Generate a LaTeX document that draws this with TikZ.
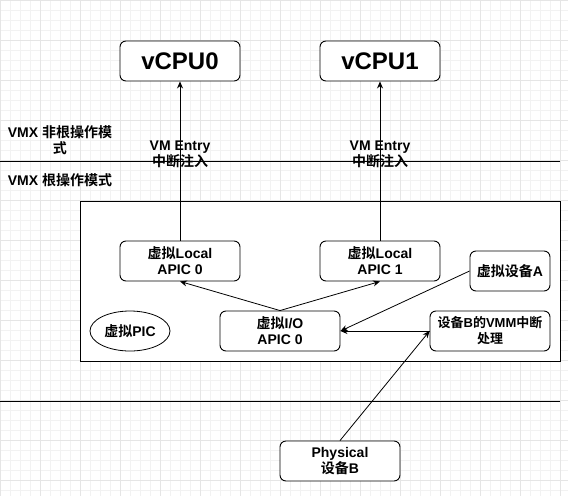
\documentclass[tikz,border=0pt]{standalone}
\usepackage{fontspec}
\setmainfont{Liberation Sans}
\newfontfamily\cjk{Noto Sans CJK SC}[BoldFont={Noto Sans CJK SC Bold}]
\usepackage{tikz}
\usetikzlibrary{arrows.meta,shapes.geometric}

\begin{document}
\begin{tikzpicture}[x=1pt,y=-1pt,>={Stealth[length=7pt,width=6pt]},
  minor/.style={draw=black!5,line width=0.5pt},
  major/.style={draw=black!10,line width=0.6pt},
  sep/.style={draw,line width=0.9pt},
  box/.style={draw,rounded corners=6pt,fill=white,align=center,inner sep=1pt,line width=0.9pt,minimum width=120pt,minimum height=40pt,font=\fontsize{14}{16}\selectfont\bfseries},
  cpubox/.style={box,font=\fontsize{24}{28}\selectfont\bfseries},
  oval/.style={draw,ellipse,fill=white,inner sep=1pt,line width=0.8pt,minimum width=80pt,minimum height=40pt,font=\fontsize{14}{16}\selectfont\bfseries},
  lbl/.style={align=center,inner sep=0pt,font=\fontsize{14}{16}\selectfont\bfseries},
  edge/.style={->,line width=0.8pt}]
\useasboundingbox (0,0) rectangle (568,496);
\foreach \i in {0,10,...,560} \draw[minor] (\i,0) -- (\i,496);
\foreach \j in {0,10,...,490} \draw[minor] (0,\j) -- (568,\j);
\foreach \i in {0,40,...,560} \draw[major] (\i,0) -- (\i,496);
\foreach \j in {0,40,...,480} \draw[major] (0,\j) -- (568,\j);
\node[cpubox] (cpu0) at (180,61) {vCPU0};
\node[cpubox] (cpu1) at (380,61) {vCPU1};
\node[lbl] (nonroot) at (60,140) {VMX {\cjk 非根操作模}\\{\cjk 式}};
\node[lbl] (root) at (60,180) {VMX {\cjk 根操作模式}};
\node[draw,fill=white,line width=0.9pt,minimum width=480pt,minimum height=160pt] (host) at (320,281) {};
\node[box] (lapic0) at (180,261) {{\cjk 虚拟}Local\\APIC 0};
\node[box] (lapic1) at (380,261) {{\cjk 虚拟}Local\\APIC 1};
\node[box,minimum width=80pt] (deva) at (510,271) {{\cjk 虚拟设备}A};
\node[oval] (pic) at (130,331) {{\cjk 虚拟}PIC};
\node[box] (ioapic) at (280,331) {{\cjk 虚拟}I/O\\APIC 0};
\node[box,font=\fontsize{13}{16}\selectfont\bfseries] (vmm) at (490,331) {{\cjk 设备}B{\cjk 的}VMM{\cjk 中断}\\{\cjk 处理}};
\node[box] (phys) at (340,461) {Physical\\{\cjk 设备}B};
\draw[edge] (lapic0) -- node[lbl,pos=0.54] {VM Entry\\{\cjk 中断注入}} (cpu0);
\draw[edge] (lapic1) -- node[lbl,pos=0.54] {VM Entry\\{\cjk 中断注入}} (cpu1);
\draw[edge] (ioapic.north) -- (lapic0.south);
\draw[edge] (ioapic.north) -- (lapic1.south);
\draw[edge] (deva.west) -- (ioapic.east);
\draw[edge] (vmm.west) -- (ioapic.east);
\draw[edge] (phys.north) -- (vmm.west);
\draw[sep] (0,161) -- (560,161);
\draw[sep] (0,401) -- (560,401);
\end{tikzpicture}
\end{document}
